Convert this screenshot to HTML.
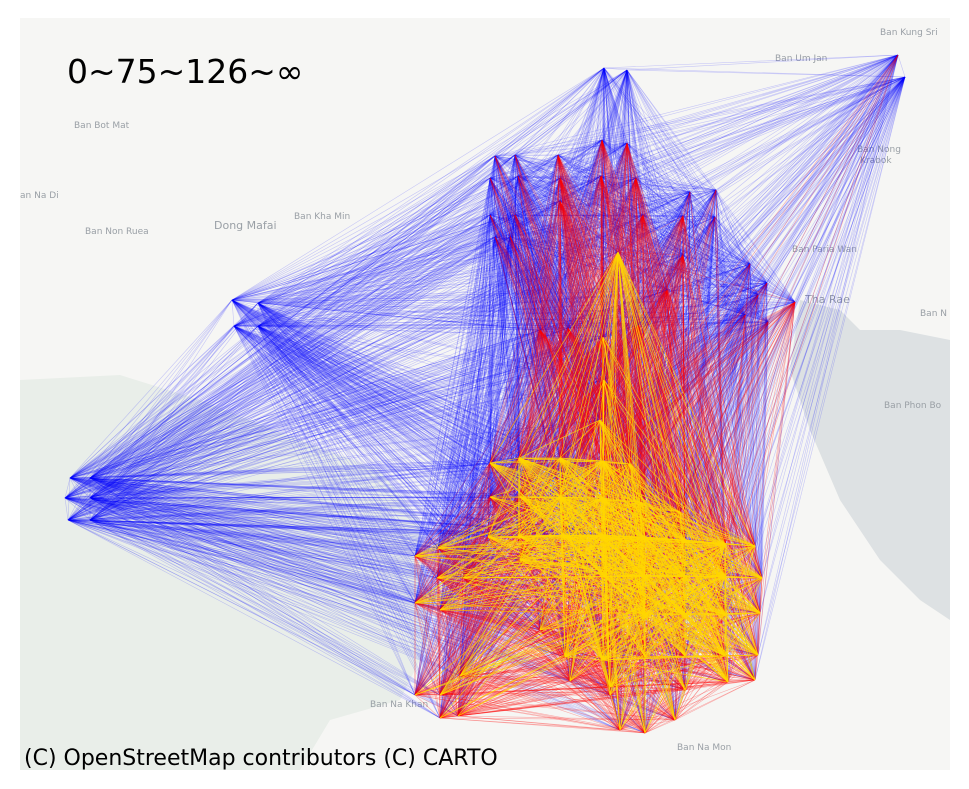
<!DOCTYPE html>
<html><head><meta charset="utf-8">
<style>
html,body{margin:0;padding:0;background:#fff;width:969px;height:789px;overflow:hidden}
svg{display:block}
text{font-family:"DejaVu Sans","Liberation Sans",sans-serif}
</style></head>
<body>
<svg id="chart" width="969" height="789" viewBox="0 0 969 789">
  <rect x="20" y="18" width="930" height="752" fill="#f6f6f4"/>
  <path d="M20 380 L120 375 L200 400 L300 440 L380 470 L420 520 L430 640 L400 700 L330 720 L300 770 L20 770 Z" fill="#e9eee9"/>
  <path d="M800 300 L840 310 L860 330 L900 330 L950 340 L950 620 L920 600 L880 560 L840 500 L810 430 L790 370 Z" fill="#dde1e3"/>
  <g fill="#9aa0a6" font-size="9">
    <text x="74" y="128">Ban Bot Mat</text>
    <text x="20" y="198">an Na Di</text>
    <text x="85" y="234">Ban Non Ruea</text>
    <text x="214" y="229" font-size="11">Dong Mafai</text>
    <text x="294" y="219">Ban Kha Min</text>
    <text x="880" y="35">Ban Kung Sri</text>
    <text x="775" y="61">Ban Um Jan</text>
    <text x="857" y="152">Ban Nong</text>
    <text x="860" y="163">Krabok</text>
    <text x="792" y="252">Ban Paria Wan</text>
    <text x="805" y="303" font-size="11">Tha Rae</text>
    <text x="884" y="408">Ban Phon Bo</text>
    <text x="920" y="316">Ban N</text>
    <text x="677" y="750">Ban Na Mon</text>
    <text x="370" y="707">Ban Na Khan</text>
  </g>
  <g id="edges"></g>
  <text x="67" y="83" font-size="33" fill="#000">0~75~126~∞</text>
  <text x="24" y="765" font-size="22" fill="#000">(C) OpenStreetMap contributors (C) CARTO</text>
</svg>
<script>
// node positions (map-projected x, y) and node weights
const nodeX = [604,627,898,905, 495,515,558,602,627,490,518,560,601,636,490,515,560,643,690,716,495,510,683,715,683,750,758,795,767,745,768,568,638,540,667,
  618, 603,604,600,
  232,258,234,258,70,90,65,90,68,90,
  490,519,560,603,630,490,520,560,603,640,680,488,518,563,603,645,685,725,755,415,438,415,437,463,520,603,645,685,725,762,440,540,645,685,725,760,565,603,645,685,725,758,415,440,460,570,610,610,685,728,755,440,458,620,645,675];
const nodeY = [68,70,55,77, 156,155,155,140,143,178,176,178,176,178,215,215,201,215,192,190,237,237,216,217,255,264,295,302,283,315,322,328,325,330,290,
  252, 337,380,420,
  300,303,326,326,478,478,498,498,520,520,
  463,458,458,461,464,497,497,497,498,502,512,537,536,535,535,537,540,544,546,556,548,603,578,578,560,575,576,576,576,578,610,630,614,615,615,613,657,660,657,656,656,655,695,695,676,681,687,695,690,682,680,718,716,730,733,720];
const nodeW = [5,5,6,5, 6,6,7,7,7,6,6,7,7,7,6,6,7,7,6,6,6,6,7,6,7,6,6,7,6,6,6,7,7,7,7,
  12, 10,10,11,
  4,4,4,4,4,4,4,4,4,4,
  11,12,12,13,11,10,11,13,13,12,11,11,11,12,14,13,12,13,11,10,10,10,10,10,11,12,13,12,14,11,10,10,14,12,12,11,11,12,11,11,12,11,9,10,10,10,11,10,10,11,10,9,9,10,10,10];
const thresholds = [75, 126];
const classColors = ["rgba(0,0,255,0.2)", "rgba(255,0,0,0.32)", "rgba(255,215,0,0.8)"];

const svgNS = "http://www.w3.org/2000/svg";
const g = document.getElementById("edges");
const layers = [[],[],[]];
for (let i = 0; i < nodeX.length; i++) {
  for (let j = i + 1; j < nodeX.length; j++) {
    const v = nodeW[i] * nodeW[j];
    const c = v < thresholds[0] ? 0 : (v < thresholds[1] ? 1 : 2);
    layers[c].push([i, j]);
  }
}
const names = ["flow-line-low", "flow-line-mid", "flow-line-high"];
for (let c = 0; c < 3; c++) {
  for (const [i, j] of layers[c]) {
    const l = document.createElementNS(svgNS, "line");
    l.setAttribute("x1", nodeX[i]); l.setAttribute("y1", nodeY[i]);
    l.setAttribute("x2", nodeX[j]); l.setAttribute("y2", nodeY[j]);
    l.setAttribute("stroke", classColors[c]);
    l.setAttribute("stroke-width", c === 2 ? "0.7" : "0.6");
    
    
    g.appendChild(l);
  }
}
</script>
</body></html>
